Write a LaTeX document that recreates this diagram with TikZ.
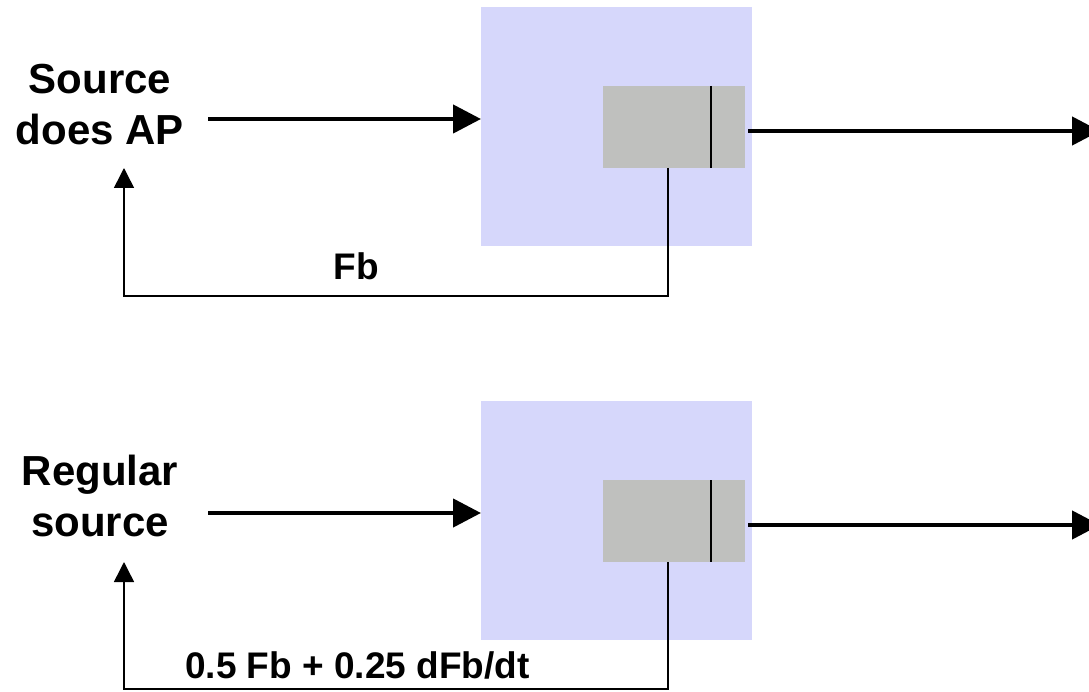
\documentclass[tikz,border=0pt]{standalone}
\usepackage{fontspec}
\setmainfont{Liberation Sans}
\usetikzlibrary{arrows.meta}
\definecolor{boxblue}{RGB}{214,215,251}
\definecolor{boxgrey}{RGB}{191,192,190}
\tikzset{
  bluebox/.style={fill=boxblue, draw=none, minimum width=271pt, minimum height=239pt, inner sep=0pt, anchor=north west},
  greybox/.style={fill=boxgrey, draw=none, minimum width=142pt, minimum height=82pt, inner sep=0pt, anchor=north west},
  srctext/.style={font=\fontsize{42}{51}\selectfont\bfseries, align=center, inner sep=0pt, anchor=base},
  fbtext/.style={font=\fontsize{37}{44}\selectfont\bfseries, inner sep=0pt},
  bigarrow/.style={line width=4.5pt, -{Triangle[length=28pt,width=28pt]}},
  fbarrow/.style={line width=1.5pt, -{Triangle[length=20pt,width=20pt]}},
  divider/.style={line width=2pt},
}
\begin{document}
\begin{tikzpicture}[x=1pt,y=-1pt]
\useasboundingbox (0,0) rectangle (1089,692);
% ---------- top ----------
\node[bluebox] (b1) at (481,7) {};
\node[greybox] (g1) at (603,86) {};
\coordinate (d1t) at (711,86);
\coordinate (d1b) at (711,168);
\draw[divider] (d1t) -- (d1b);
\node[srctext] (s1) at (100,145) {Source\\does AP};
\coordinate (in1) at (208,119);
\draw[bigarrow] (in1) -- (b1.west |- in1);
\coordinate (out1) at (748,131);
\coordinate (end1) at (1100,131);
\draw[bigarrow] (out1) -- (end1);
\coordinate (fb1s) at (668,168);
\coordinate (fb1t) at (124,168);
\draw[fbarrow] (fb1s) -- (668,296) -- (124,296) -- (fb1t);
\node[fbtext, anchor=base] (l1) at (356,280) {Fb};
% ---------- bottom ----------
\node[bluebox] (b2) at (481,401) {};
\node[greybox] (g2) at (603,480) {};
\coordinate (d2t) at (711,480);
\coordinate (d2b) at (711,562);
\draw[divider] (d2t) -- (d2b);
\node[srctext] (s2) at (100,536) {Regular\\source};
\coordinate (in2) at (208,513);
\draw[bigarrow] (in2) -- (b2.west |- in2);
\coordinate (out2) at (748,525);
\coordinate (end2) at (1100,525);
\draw[bigarrow] (out2) -- (end2);
\coordinate (fb2s) at (668,562);
\coordinate (fb2t) at (124,562);
\draw[fbarrow] (fb2s) -- (668,689) -- (124,689) -- (fb2t);
\node[fbtext, anchor=base west] (l2) at (185,678) {0.5 Fb + 0.25 dFb/dt};
\end{tikzpicture}
\end{document}
